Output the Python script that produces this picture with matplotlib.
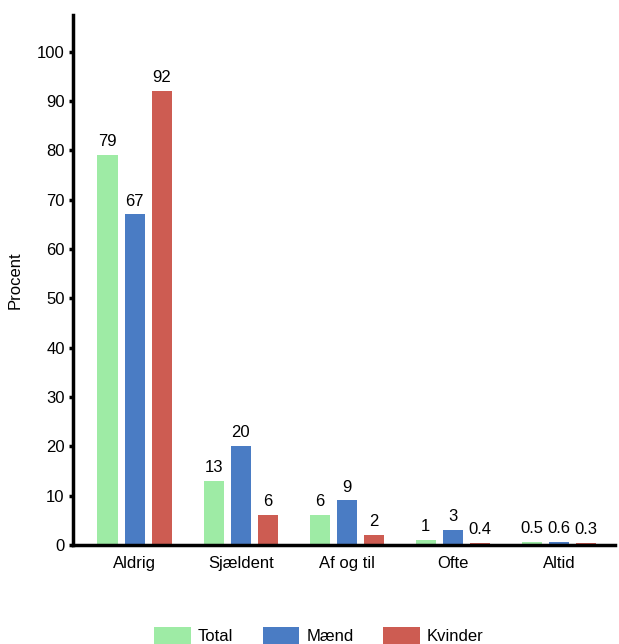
import matplotlib
matplotlib.use("Agg")
from matplotlib import pyplot as plt
import numpy as np

plt.rcParams["font.family"] = ["Liberation Sans", "DejaVu Sans"]

categories = ["Aldrig", "Sjældent", "Af og til", "Ofte", "Altid"]
total = [79, 13, 6, 1, 0.5]
maend = [67, 20, 9, 3, 0.6]
kvinder = [92, 6, 2, 0.4, 0.3]
series = [("Total", total, "#9EEBA5"), ("Mænd", maend, "#4A7CC4"), ("Kvinder", kvinder, "#CD5C52")]

fig = plt.figure(figsize=(6.19, 6.44), dpi=100)
ax = fig.add_axes([0.118, 0.154, 0.876, 0.823])

x = np.arange(len(categories))
step = 0.255
width = 0.19
for i, (name, vals, color) in enumerate(series):
    pos = x + (i - 1) * step
    ax.bar(pos, vals, width=width, color=color, label=name)
    for p, v in zip(pos, vals):
        ax.text(p, v + 1.2, f"{v:g}", ha="center", va="bottom", fontsize=12)

ax.set_xlim(-0.58, 4.53)
ax.set_ylim(0, 107.5)
ax.set_yticks(range(0, 101, 10))
ax.set_xticks(x)
ax.set_xticklabels(categories, fontsize=12)
ax.tick_params(axis="x", length=0, pad=8)
ax.tick_params(axis="y", direction="out", length=3, width=2.5, labelsize=12, pad=3)
ax.set_ylabel("Procent", fontsize=12, labelpad=10)
for s in ("top", "right"):
    ax.spines[s].set_visible(False)
for s in ("left", "bottom"):
    ax.spines[s].set_linewidth(2.5)

fig.legend(loc="center", bbox_to_anchor=(0.515, 0.013), ncol=3, frameon=False,
           fontsize=12, handlelength=2.2, handleheight=1.2, handletextpad=0.4,
           columnspacing=1.8, borderpad=0)

fig.savefig("out.png", dpi=100)
